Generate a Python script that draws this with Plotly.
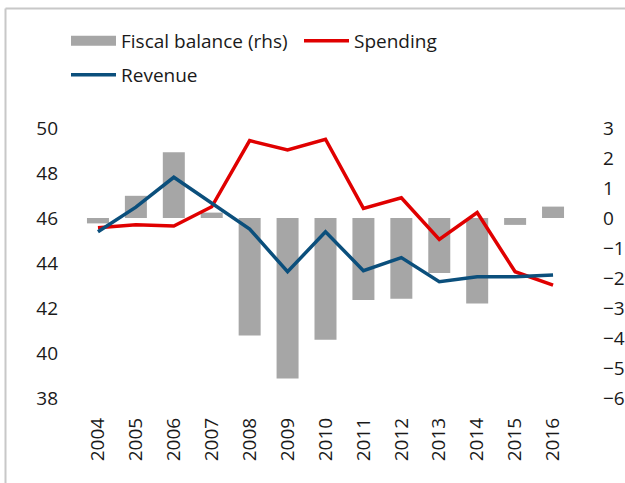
import plotly.graph_objects as go

years = ["2004", "2005", "2006", "2007", "2008", "2009", "2010",
         "2011", "2012", "2013", "2014", "2015", "2016"]
fiscal_balance = [-0.18, 0.74, 2.19, 0.18, -3.92, -5.35, -4.06,
                  -2.73, -2.69, -1.83, -2.85, -0.23, 0.38]
spending = [45.57, 45.70, 45.64, 46.50, 49.44, 49.02, 49.50,
            46.43, 46.90, 45.05, 46.24, 43.61, 43.02]
revenue = [45.39, 46.48, 47.81, 46.65, 45.51, 43.61, 45.39,
           43.66, 44.24, 43.17, 43.39, 43.39, 43.47]

left_ticks = [38, 40, 42, 44, 46, 48, 50]
right_ticks = [-6, -5, -4, -3, -2, -1, 0, 1, 2, 3]

FONT = "Open Sans"
GRAY = "#A6A6A6"
RED = "#E00000"
BLUE = "#0B4F7C"

fig = go.Figure()
fig.add_trace(go.Bar(x=years, y=fiscal_balance, name="Fiscal balance (rhs)",
                     marker=dict(color=GRAY, line=dict(width=0)),
                     yaxis="y", showlegend=False, legendgroup="fb"))
# legend proxy for the bar series (wide rectangle symbol)
fig.add_trace(go.Scatter(x=[None], y=[None], name="Fiscal balance (rhs)", mode="lines",
                         line=dict(color=GRAY, width=10), yaxis="y",
                         legend="legend", legendgroup="fb"))
fig.add_trace(go.Scatter(x=years, y=spending, name="Spending", mode="lines",
                         line=dict(color=RED, width=3.5), yaxis="y2",
                         legend="legend"))
fig.add_trace(go.Scatter(x=years, y=revenue, name="Revenue", mode="lines",
                         line=dict(color=BLUE, width=3.5), yaxis="y2",
                         legend="legend2"))

PL, PR, PT, PB = 79, 572, 128, 398
PW, PH = PR - PL, PB - PT

def px_x(x):
    return (x - PL) / PW

def px_y(y):
    return (PB - y) / PH

legend_common = dict(orientation="h", xanchor="left", yanchor="middle",
                     entrywidth=173, entrywidthmode="pixels",
                     font=dict(family=FONT, size=19, color="#1a1a1a"),
                     itemwidth=45, bgcolor="rgba(0,0,0,0)")

fig.update_layout(
    width=625, height=483,
    margin=dict(l=PL, r=625 - PR, t=PT, b=483 - PB),
    paper_bgcolor="white", plot_bgcolor="white",
    font=dict(family=FONT, size=19, color="#1a1a1a"),
    bargap=0.42,
    showlegend=True,
    legend=dict(x=px_x(66), y=px_y(41), **legend_common),
    legend2=dict(x=px_x(66), y=px_y(75), **legend_common),
    xaxis=dict(type="category", tickangle=-90, showline=False, showgrid=False,
               ticks="", ticklabelstandoff=15, zeroline=False, automargin=False),
    yaxis=dict(side="right", range=[-6, 3], tickvals=right_ticks, showgrid=False,
               zeroline=False, showline=False, ticks="", ticklabelstandoff=30,
               automargin=False),
    yaxis2=dict(side="left", overlaying="y", range=[38, 50], tickvals=left_ticks,
                showgrid=False, zeroline=False, showline=False, ticks="",
                ticklabelstandoff=20, automargin=False),
    shapes=[
        dict(type="line", xref="paper", yref="paper",
             x0=px_x(5.5), x1=px_x(5.5), y0=px_y(483), y1=px_y(8.5),
             line=dict(color="#C8C8C8", width=2)),
        dict(type="line", xref="paper", yref="paper",
             x0=px_x(5.5), x1=px_x(625), y0=px_y(8.5), y1=px_y(8.5),
             line=dict(color="#C8C8C8", width=2)),
    ],
)

fig.write_html("out.html", config={"displayModeBar": False},
               post_script="document.body.style.margin='0';document.body.style.overflow='hidden';")
